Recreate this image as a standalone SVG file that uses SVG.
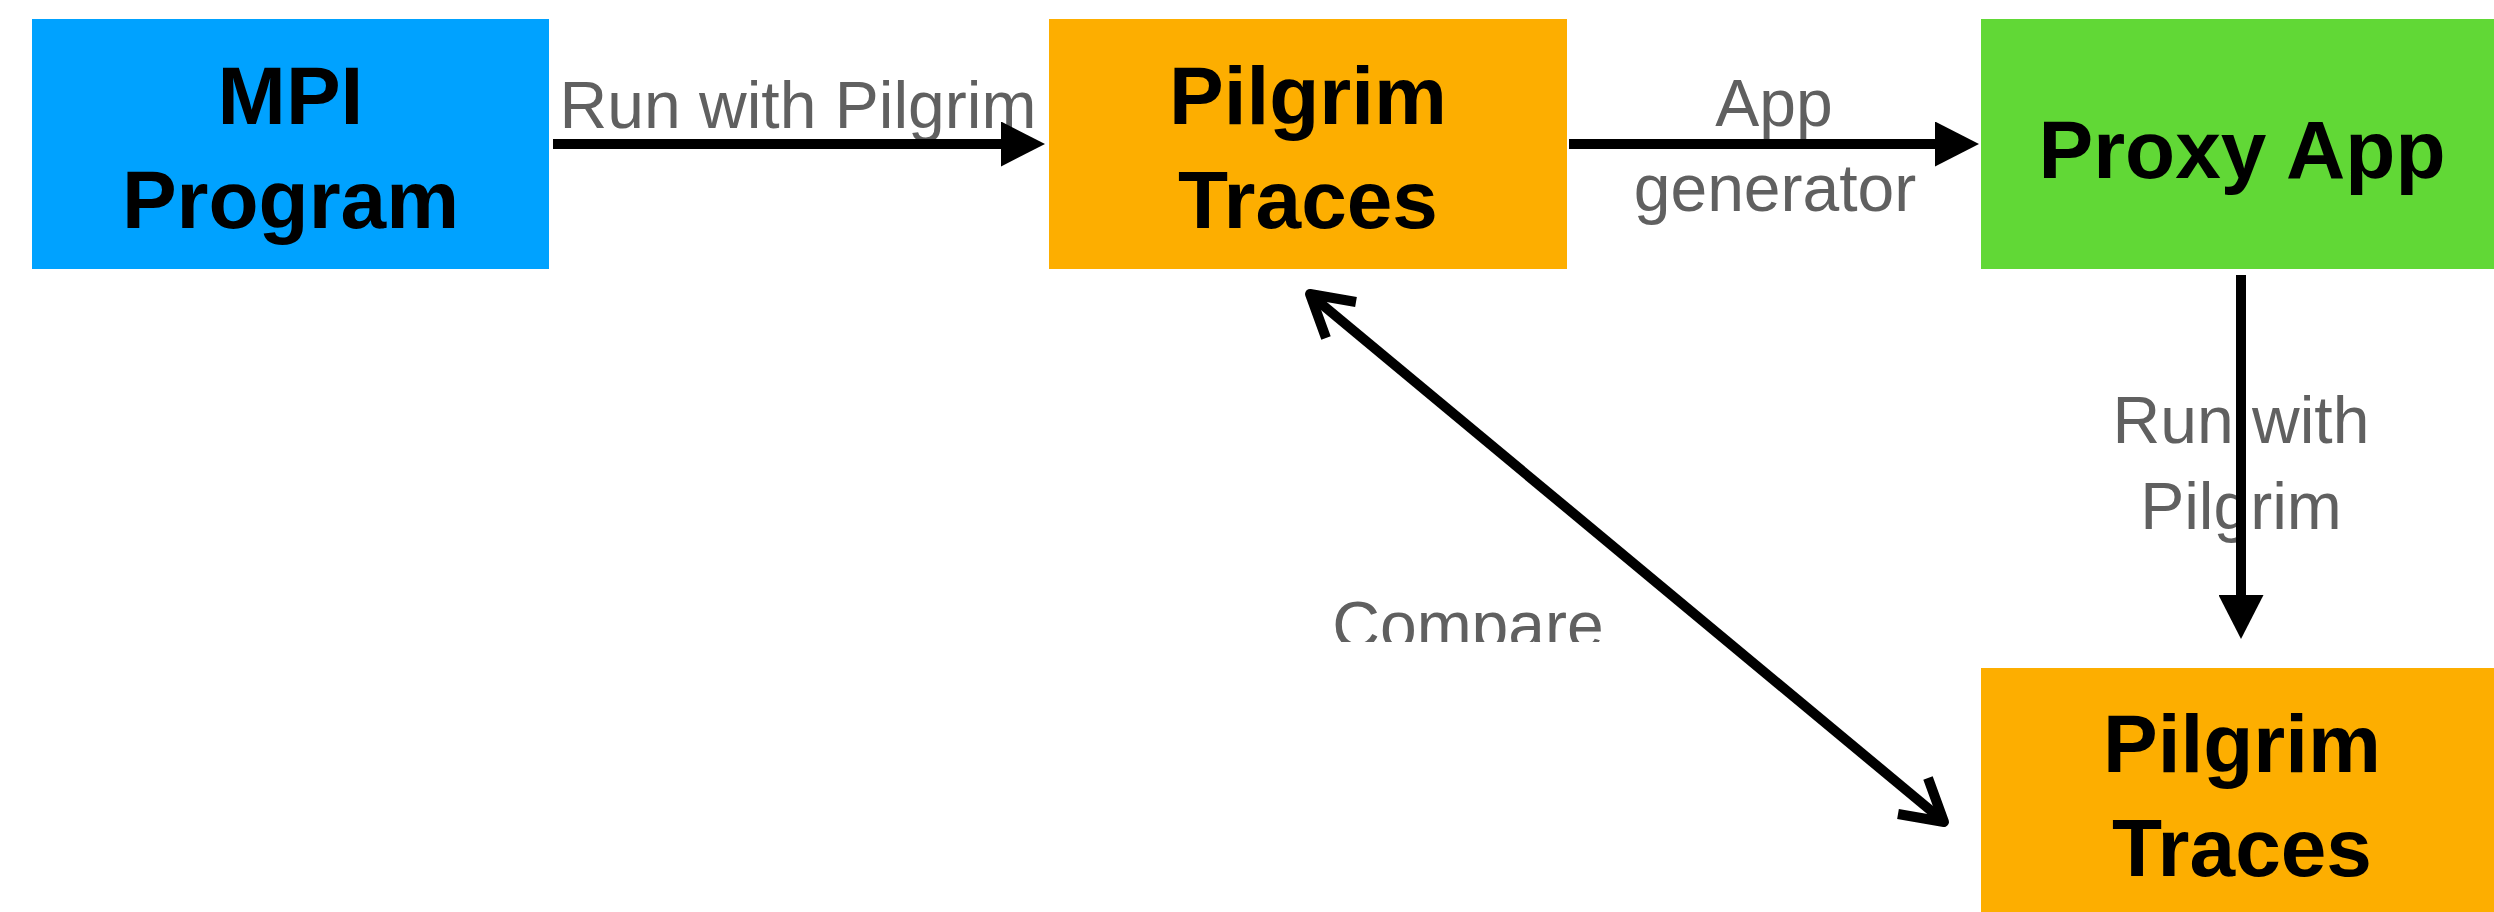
<svg xmlns="http://www.w3.org/2000/svg" width="2494" height="912" viewBox="0 0 2494 912">
  <style>
    .node-label { font-family: "Liberation Sans", Arial, Helvetica, sans-serif; font-weight: bold; font-size: 82px; fill: #000000; text-anchor: middle; }
    .edge-label { font-family: "Liberation Sans", Arial, Helvetica, sans-serif; font-size: 66px; fill: #606060; text-anchor: middle; }
    .edge { stroke: #000000; stroke-width: 10; fill: none; }
    .open-head { stroke: #000000; stroke-width: 10; fill: none; stroke-linejoin: round; stroke-linecap: butt; }
  </style>
  <defs>
    <marker id="solid-arrow" markerUnits="userSpaceOnUse" viewBox="0 0 44 45" refX="0" refY="22.5" markerWidth="44" markerHeight="45" orient="auto">
      <path d="M0,0 L44,22.5 L0,45 Z" fill="#000000"/>
    </marker>
    <clipPath id="compare-clip">
      <rect x="1250" y="560" width="420" height="82"/>
    </clipPath>
  </defs>

  <rect width="2494" height="912" fill="#ffffff"/>

  <!-- nodes -->
  <g id="mpi-program">
    <rect x="32" y="19" width="517" height="250" fill="#00A2FF"/>
    <text class="node-label" x="290.5" y="124">MPI</text>
    <text class="node-label" x="290.5" y="228">Program</text>
  </g>
  <g id="pilgrim-traces">
    <rect x="1049" y="19" width="518" height="250" fill="#FDAE00"/>
    <text class="node-label" x="1308" y="124">Pilgrim</text>
    <text class="node-label" x="1308" y="228">Traces</text>
  </g>
  <g id="proxy-app">
    <rect x="1981" y="19" width="520" height="250" fill="#61D836"/>
    <text class="node-label" x="2242" y="178">Proxy App</text>
  </g>
  <g id="proxy-pilgrim-traces">
    <rect x="1981" y="668" width="520" height="260" fill="#FDAE00"/>
    <text class="node-label" x="2242" y="772">Pilgrim</text>
    <text class="node-label" x="2242" y="876">Traces</text>
  </g>

  <!-- edge labels -->
  <g id="edge-labels">
    <text class="edge-label" x="798" y="128">Run with Pilgrim</text>
    <text class="edge-label" x="1774" y="126">App</text>
    <text class="edge-label" x="1775" y="211">generator</text>
    <text class="edge-label" x="2241" y="443">Run with</text>
    <text class="edge-label" x="2241" y="529">Pilgrim</text>
    <text class="edge-label" x="1468" y="648" clip-path="url(#compare-clip)">Compare</text>
  </g>

  <!-- connectors -->
  <g id="connectors">
    <line class="edge" x1="553" y1="144" x2="1001" y2="144" marker-end="url(#solid-arrow)"/>
    <line class="edge" x1="1569" y1="144" x2="1935" y2="144" marker-end="url(#solid-arrow)"/>
    <line class="edge" x1="2241" y1="275" x2="2241" y2="595" marker-end="url(#solid-arrow)"/>
    <!-- two-way compare arrow with open heads -->
    <line class="edge" x1="1313" y1="297" x2="1941" y2="819"/>
    <path class="open-head" d="M1326,338 L1310,294 L1356,302"/>
    <path class="open-head" d="M1928,778 L1944,822 L1898,814"/>
  </g>
</svg>
